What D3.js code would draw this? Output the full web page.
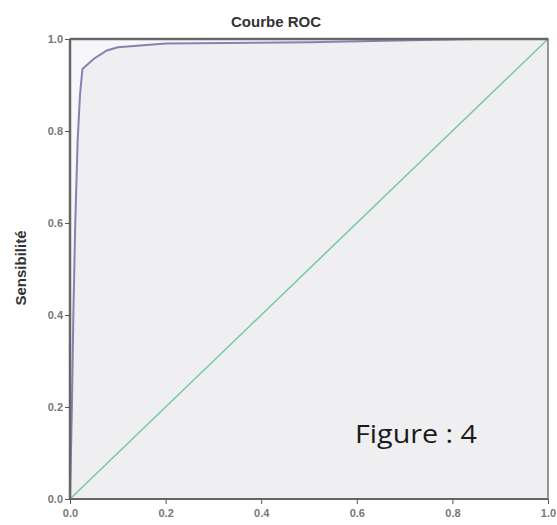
<!DOCTYPE html>
<html><head><meta charset="utf-8">
<script src="https://cdn.jsdelivr.net/npm/d3@7"></script>
<style>body{margin:0;background:#fff}svg{display:block}</style>
</head><body>
<script>
const title = "Courbe ROC";
const yLabel = "Sensibilité";
const annotation = "Figure : 4";
const tickValues = [0, 0.2, 0.4, 0.6, 0.8, 1.0];
const rocFpr = [0, 0.004, 0.007, 0.011, 0.016, 0.021, 0.026, 0.05, 0.077, 0.1, 0.2, 0.5, 0.85, 1.0];
const rocTpr = [0, 0.20, 0.40, 0.60, 0.78, 0.88, 0.935, 0.957, 0.975, 0.982, 0.99, 0.993, 1.0, 1.0];
const diagX = [0, 1];
const diagY = [0, 1];

const W = 557, H = 525;
const m = {l: 70, r: 9, t: 39, b: 26};
const svg = d3.select("body").append("svg").attr("width", W).attr("height", H);
const x = d3.scaleLinear().domain([0, 1]).range([m.l, W - m.r]);
const y = d3.scaleLinear().domain([0, 1]).range([H - m.b, m.t]);

svg.append("rect").attr("x", x(0)).attr("y", y(1)).attr("width", x(1) - x(0)).attr("height", y(0) - y(1)).attr("fill", "#efeff1");

const pts = rocFpr.map((f, i) => [f, rocTpr[i]]);
svg.append("path").datum(pts.concat([[0, 1]]))
  .attr("d", d3.line().x(d => x(d[0])).y(d => y(d[1])))
  .attr("fill", "#f7f6fb");

svg.append("line").attr("x1", x(diagX[0])).attr("y1", y(diagY[0])).attr("x2", x(diagX[1])).attr("y2", y(diagY[1]))
  .attr("stroke", "#74c9a6").attr("stroke-width", 1.5);

svg.append("path").datum(pts)
  .attr("d", d3.line().x(d => x(d[0])).y(d => y(d[1])))
  .attr("fill", "none").attr("stroke", "#8383b3").attr("stroke-width", 2);

svg.append("rect").attr("x", x(0)).attr("y", y(1)).attr("width", x(1) - x(0)).attr("height", y(0) - y(1))
  .attr("fill", "none").attr("stroke", "#777").attr("stroke-width", 1.5);
svg.append("line").attr("x1", x(0)).attr("x2", x(1)).attr("y1", y(1)).attr("y2", y(1)).attr("stroke", "#666").attr("stroke-width", 2.5);
svg.append("line").attr("x1", x(0)).attr("x2", x(0)).attr("y1", y(0)).attr("y2", y(1)).attr("stroke", "#666").attr("stroke-width", 2.5);
svg.append("line").attr("x1", x(0)).attr("x2", x(1)).attr("y1", y(0)).attr("y2", y(0)).attr("stroke", "#666").attr("stroke-width", 2);

const fmt = d3.format(".1f");
const xa = svg.append("g").attr("transform", `translate(0,${y(0)})`)
  .call(d3.axisBottom(x).tickValues(tickValues).tickFormat(fmt).tickSize(5).tickPadding(5));
const ya = svg.append("g").attr("transform", `translate(${x(0)},0)`)
  .call(d3.axisLeft(y).tickValues(tickValues).tickFormat(fmt).tickSize(5).tickPadding(2));
[xa, ya].forEach(a => {
  a.select(".domain").remove();
  a.selectAll("line").attr("stroke", "#555");
  a.selectAll("text").attr("fill", "#777").attr("font-family", "Liberation Sans, Arial, sans-serif").attr("font-size", 11).attr("font-weight", "bold");
});

svg.append("text").attr("x", 276).attr("y", 27).attr("text-anchor", "middle")
  .attr("font-family", "Liberation Sans, Arial, sans-serif").attr("font-size", 15).attr("font-weight", "bold").attr("fill", "#333").text(title);
svg.append("text").attr("transform", `translate(26,268) rotate(-90)`).attr("text-anchor", "middle")
  .attr("font-family", "Liberation Sans, Arial, sans-serif").attr("font-size", 15).attr("font-weight", "bold").attr("fill", "#333").text(yLabel);
svg.append("text").attr("x", 355).attr("y", 443).attr("textLength", 122).attr("lengthAdjust", "spacingAndGlyphs")
  .attr("font-family", "Open Sans, Liberation Sans, sans-serif").attr("font-size", 25).attr("fill", "#1a1a1a").text(annotation);
</script>
</body></html>
